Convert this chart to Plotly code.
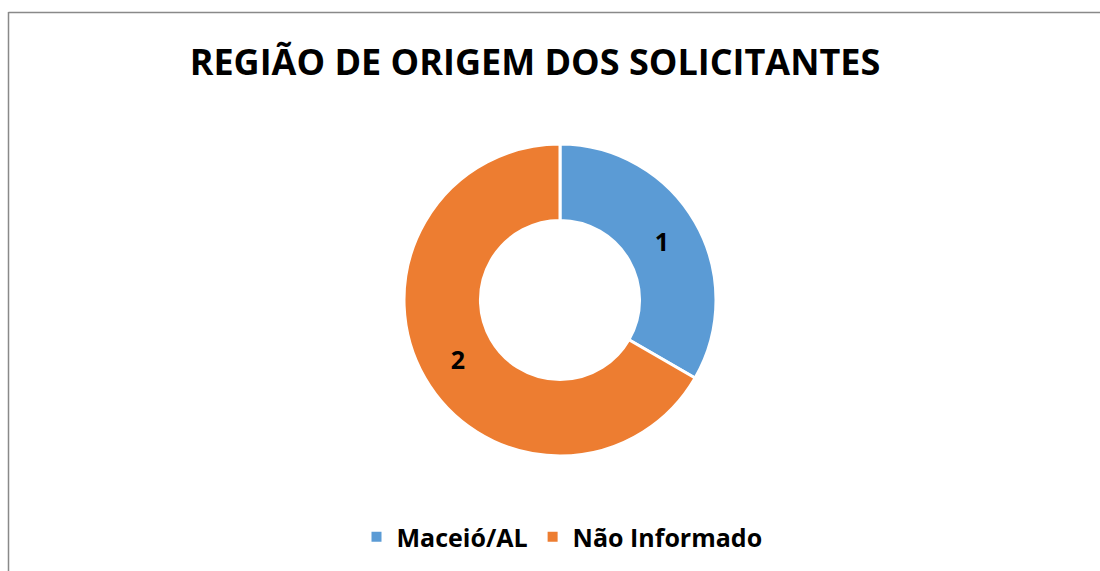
import plotly.graph_objects as go

categories = ["Maceió/AL", "Não Informado"]
values = [1, 2]
colors = ["#5B9BD5", "#ED7D31"]
title_text = "REGIÃO DE ORIGEM DOS SOLICITANTES"

W, H = 1100, 571

fig = go.Figure()
fig.add_trace(go.Pie(
    labels=categories,
    values=values,
    hole=0.51,
    sort=False,
    direction="clockwise",
    rotation=0,
    marker=dict(colors=colors, line=dict(color="white", width=3)),
    textinfo="value",
    textposition="inside",
    insidetextorientation="horizontal",
    textfont=dict(family="Open Sans", size=25, color="black", weight="bold"),
    domain=dict(x=[404 / W, 716 / W], y=[1 - 456 / H, 1 - 144 / H]),
    hoverinfo="label+value",
))

fig.update_layout(
    width=W, height=H,
    margin=dict(l=0, r=0, t=0, b=0),
    paper_bgcolor="white",
    plot_bgcolor="white",
    title=dict(
        text="<b>" + title_text + "</b>",
        x=535 / W, xanchor="center",
        y=1 - 62 / H, yanchor="middle",
        font=dict(family="Open Sans", size=36, color="black"),
    ),
    showlegend=True,
    legend=dict(
        orientation="h",
        x=562 / W, xanchor="center",
        y=1 - 537 / H, yanchor="middle",
        font=dict(family="Open Sans", size=25, color="black", weight="bold"),
        itemsizing="constant",
    ),
    shapes=[
        dict(type="line", xref="paper", yref="paper",
             x0=8.5 / W, x1=8.5 / W, y0=0, y1=1 - 12 / H,
             line=dict(color="#898989", width=1.5)),
        dict(type="line", xref="paper", yref="paper",
             x0=8.5 / W, x1=1, y0=1 - 12.5 / H, y1=1 - 12.5 / H,
             line=dict(color="#898989", width=1.5)),
    ],
)

fig.write_html(
    "out.html",
    config={"displayModeBar": False},
    post_script="document.body.style.margin='0';document.body.style.overflow='hidden';",
)
